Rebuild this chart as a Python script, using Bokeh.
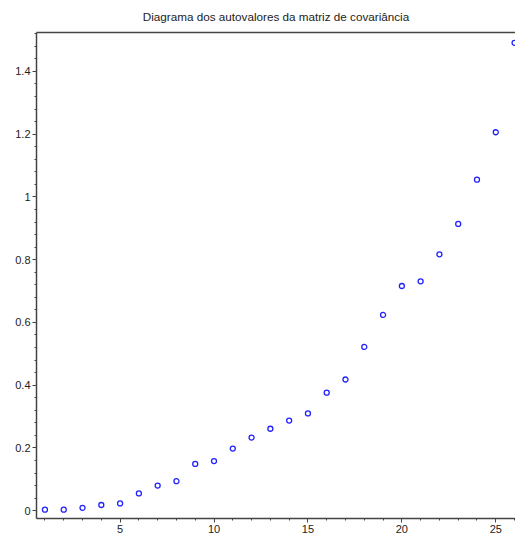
from bokeh.plotting import figure
from bokeh.models import (Range1d, SingleIntervalTicker, FixedTicker, NumeralTickFormatter, LinearAxis, ColumnDataSource)
from bokeh.embed import file_html
from bokeh.resources import INLINE

# Data
indices = list(range(1, 27))
eigenvalues = [0.003, 0.003, 0.009, 0.018, 0.023, 0.055, 0.080, 0.094, 0.149, 0.158,
               0.198, 0.233, 0.261, 0.287, 0.310, 0.376, 0.418, 0.522, 0.624, 0.716,
               0.731, 0.817, 0.914, 1.055, 1.206, 1.491]
title_text = "Diagrama dos autovalores da matriz de covariância"

src = ColumnDataSource(dict(x=indices, y=eigenvalues))

p = figure(width=515, height=535, output_backend="svg", toolbar_location=None,
           x_range=Range1d(0.55, 26.05), y_range=Range1d(-0.025, 1.524),
           min_border_left=36, min_border_right=0, min_border_top=32, min_border_bottom=15,
           x_axis_type=None, y_axis_type=None)

p.title.text = title_text
p.title.align = "center"
p.title.vertical_align = "top"
p.title.padding = 3
p.title.text_font = "Liberation Sans"
p.title.text_font_size = "11.7px"
p.title.text_font_style = "normal"
p.title.text_color = "#222222"

p.xgrid.visible = False
p.ygrid.visible = False
p.outline_line_color = None
p.background_fill_color = "white"
p.border_fill_color = "white"

axis_color = "#444444"

xaxis = LinearAxis(ticker=SingleIntervalTicker(interval=5, num_minor_ticks=5))
yaxis = LinearAxis(ticker=SingleIntervalTicker(interval=0.2, num_minor_ticks=5),
                   formatter=NumeralTickFormatter(format="0.[0]"))
for ax in (xaxis, yaxis):
    ax.axis_line_color = axis_color
    ax.axis_line_width = 1.5
    ax.major_tick_line_color = axis_color
    ax.minor_tick_line_color = axis_color
    ax.major_tick_out = 4
    ax.major_tick_in = 0
    ax.minor_tick_out = 2
    ax.minor_tick_in = 0
    ax.major_label_text_font = "Liberation Sans"
    ax.major_label_text_font_size = "11px"
    ax.major_label_text_color = "#222222"
    ax.major_label_standoff = 2
p.add_layout(xaxis, "below")
p.add_layout(yaxis, "left")

top = LinearAxis(ticker=FixedTicker(ticks=[]))
top.axis_line_color = axis_color
top.axis_line_width = 1.5
top.major_tick_line_color = None
top.minor_tick_line_color = None
top.major_label_standoff = 0
p.add_layout(top, "above")

p.scatter("x", "y", source=src, marker="circle", size=5, fill_color=None,
          line_color="#2222ff", line_width=1.3)

open("out.html", "w").write(file_html(p, INLINE))
